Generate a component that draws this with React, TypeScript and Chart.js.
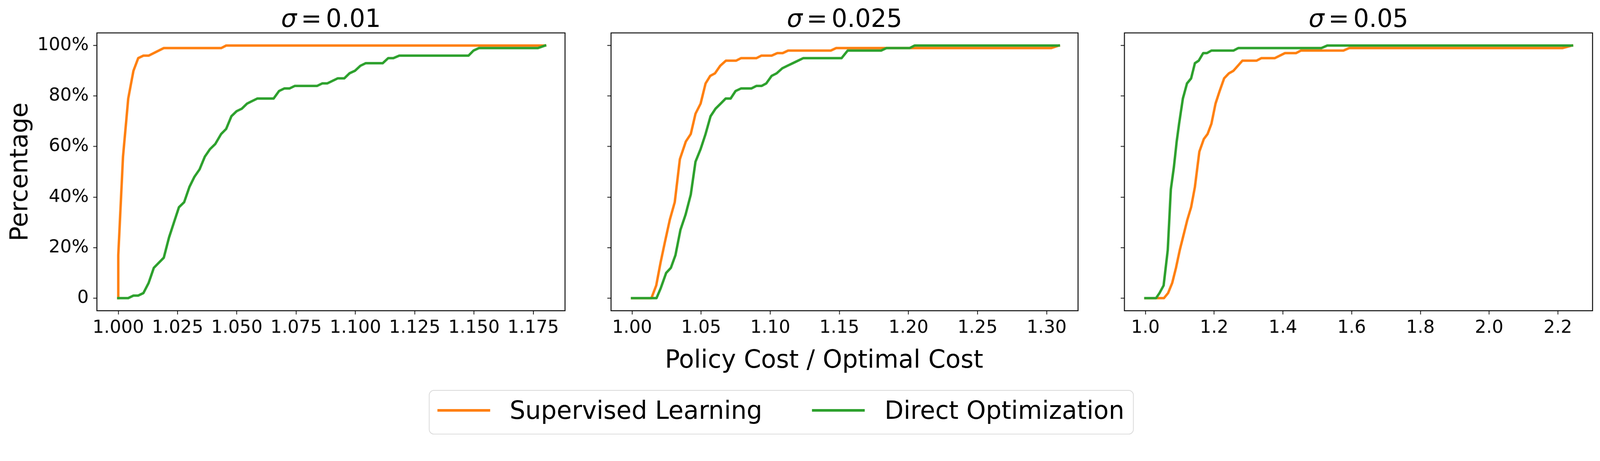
import { Chart, registerables } from "chart.js"
import React, { useEffect, useRef } from "react"

Chart.register(...registerables)

const FONT = "'DejaVu Sans', sans-serif"
const SL_COLOR = "#ff7f0e"
const DO_COLOR = "#2ca02c"
const PAGE_W = 4276
const PAGE_H = 1181

const SERIES_LABELS = ["Supervised Learning", "Direct Optimization"]
const SIGMAS = ["0.01", "0.025", "0.05"]

// shared y axis
const Y_TICKS = [0, 20, 40, 60, 80, 100]
const Y_TICK_LABELS = ["0", "20%", "40%", "60%", "80%", "100%"]

// sigma = 0.01
const X_TICKS_1 = [1.0, 1.025, 1.05, 1.075, 1.1, 1.125, 1.15, 1.175]
const X_TICK_LABELS_1 = ["1.000", "1.025", "1.050", "1.075", "1.100", "1.125", "1.150", "1.175"]
const SL1_X = [1.0, 1.0, 1.002, 1.0042, 1.0064, 1.0084, 1.0106, 1.0128, 1.0192, 1.0434, 1.0455, 1.18]
const SL1_Y = [0, 17, 56, 79, 90, 95, 96, 96, 99, 99, 100, 100]
const DO1_X = [
  1.0, 1.0042, 1.0064, 1.0084, 1.0106, 1.0128, 1.015, 1.0192, 1.0214, 1.0235, 1.0256, 1.0278, 1.03,
  1.0321, 1.0343, 1.0365, 1.0387, 1.0409, 1.0434, 1.0455, 1.0477, 1.0499, 1.0521, 1.0543, 1.0564,
  1.0586, 1.0655, 1.0678, 1.07, 1.0722, 1.0744, 1.0838, 1.086, 1.0881, 1.0903, 1.0925, 1.0953,
  1.0975, 1.0998, 1.1021, 1.1043, 1.1115, 1.1138, 1.116, 1.1185, 1.1477, 1.1498, 1.1521, 1.177, 1.18,
]
const DO1_Y = [
  0, 0, 1, 1, 2, 6, 12, 16, 24, 30, 36, 38, 44, 48, 51, 56, 59, 61, 65, 67, 72, 74, 75, 77, 78, 79, 79,
  82, 83, 83, 84, 84, 85, 85, 86, 87, 87, 89, 90, 92, 93, 93, 95, 95, 96, 96, 98, 99, 99, 100,
]

// sigma = 0.025
const X_TICKS_2 = [1.0, 1.05, 1.1, 1.15, 1.2, 1.25, 1.3]
const X_TICK_LABELS_2 = ["1.00", "1.05", "1.10", "1.15", "1.20", "1.25", "1.30"]
const SL2_X = [
  1.0, 1.014, 1.0175, 1.0206, 1.0237, 1.0273, 1.0309, 1.0346, 1.0389, 1.0425, 1.0459, 1.0496, 1.0532,
  1.0566, 1.06, 1.0638, 1.0679, 1.0752, 1.0788, 1.0899, 1.0935, 1.101, 1.1051, 1.109, 1.1129, 1.1438,
  1.1477, 1.3034, 1.3088,
]
const SL2_Y = [
  0, 0, 5, 14, 22, 31, 38, 55, 62, 65, 73, 77, 85, 88, 89, 92, 94, 94, 95, 95, 96, 96, 97, 97, 98, 98,
  99, 99, 100,
]
const DO2_X = [
  1.0, 1.0177, 1.0208, 1.0247, 1.0281, 1.0314, 1.035, 1.0387, 1.0425, 1.0459, 1.0496, 1.0532, 1.0568,
  1.0604, 1.0641, 1.0677, 1.0713, 1.0749, 1.0788, 1.0863, 1.0899, 1.0937, 1.0971, 1.101, 1.1046,
  1.1087, 1.1124, 1.1163, 1.1201, 1.1238, 1.1516, 1.156, 1.1802, 1.1841, 1.2008, 1.2044, 1.3088,
]
const DO2_Y = [
  0, 0, 4, 10, 12, 17, 27, 33, 41, 54, 59, 65, 72, 75, 77, 79, 79, 82, 83, 83, 84, 84, 85, 88, 89, 91,
  92, 93, 94, 95, 95, 98, 98, 99, 99, 100, 100,
]

// sigma = 0.05
const X_TICKS_3 = [1.0, 1.2, 1.4, 1.6, 1.8, 2.0, 2.2]
const X_TICK_LABELS_3 = ["1.0", "1.2", "1.4", "1.6", "1.8", "2.0", "2.2"]
const SL3_X = [
  1.0, 1.054, 1.066, 1.078, 1.089, 1.1, 1.111, 1.122, 1.133, 1.144, 1.157, 1.17, 1.181, 1.192, 1.204,
  1.216, 1.229, 1.243, 1.256, 1.282, 1.323, 1.337, 1.376, 1.406, 1.438, 1.452, 1.576, 1.593, 2.213, 2.241,
]
const SL3_Y = [
  0, 0, 2, 6, 12, 19, 25, 31, 36, 44, 58, 63, 65, 69, 77, 82, 87, 89, 90, 94, 94, 95, 95, 97, 97, 98, 98,
  99, 99, 100,
]
const DO3_X = [
  1.0, 1.031, 1.041, 1.053, 1.065, 1.074, 1.083, 1.091, 1.098, 1.109, 1.121, 1.133, 1.144, 1.155, 1.168,
  1.179, 1.192, 1.256, 1.27, 1.512, 1.529, 2.241,
]
const DO3_Y = [0, 0, 2, 5, 19, 43, 52, 62, 69, 79, 85, 87, 93, 94, 97, 97, 98, 98, 99, 99, 100, 100]

const toPoints = (xs: number[], ys: number[]) => xs.map((x, i) => ({ x, y: ys[i] }))

const framePlugin = {
  id: "frame",
  afterDatasetsDraw(chart: Chart) {
    const { ctx, chartArea: a } = chart
    ctx.save()
    ctx.strokeStyle = "#000"
    ctx.lineWidth = 2.5
    ctx.strokeRect(a.left, a.top, a.right - a.left, a.bottom - a.top)
    ctx.restore()
  },
}

const CANVAS_H = 900
const AREA_TOP = 88
const AREA_BOTTOM = 831

type PanelProps = {
  left: number
  width: number
  yAxisWidth: number
  showY: boolean
  xMin: number
  xMax: number
  xTicks: number[]
  xTickLabels: string[]
  sl: { x: number; y: number }[]
  dopt: { x: number; y: number }[]
}

const Panel: React.FC<PanelProps> = (p) => {
  const chartRef = useRef<HTMLCanvasElement>(null)

  useEffect(() => {
    const ctx = chartRef.current?.getContext("2d")
    if (!ctx) return
    const chart = new Chart(ctx, {
      type: "line",
      data: {
        datasets: [
          {
            label: SERIES_LABELS[0],
            data: p.sl,
            borderColor: SL_COLOR,
            order: 1,
          },
          {
            label: SERIES_LABELS[1],
            data: p.dopt,
            borderColor: DO_COLOR,
            order: 0,
          },
        ],
      },
      options: {
        animation: false,
        responsive: false,
        maintainAspectRatio: false,
        layout: { padding: { left: 0, right: 20, top: AREA_TOP, bottom: 0 } },
        elements: {
          point: { radius: 0 },
          line: { borderWidth: 6.5, tension: 0, borderJoinStyle: "round", borderCapStyle: "square" },
        },
        plugins: {
          legend: { display: false },
          tooltip: { enabled: false },
        },
        scales: {
          x: {
            type: "linear",
            min: p.xMin,
            max: p.xMax,
            afterBuildTicks: (scale: any) => {
              scale.ticks = p.xTicks.map((v) => ({ value: v }))
            },
            afterFit: (scale: any) => {
              scale.height = CANVAS_H - AREA_BOTTOM
            },
            border: { display: false },
            grid: {
              drawOnChartArea: false,
              drawTicks: true,
              tickLength: 10,
              tickWidth: 2,
              tickColor: "#000",
              color: "#000",
            },
            ticks: {
              autoSkip: false,
              maxRotation: 0,
              padding: 8,
              color: "#000",
              font: { family: FONT, size: 48 },
              callback: (_v: any, i: number) => p.xTickLabels[i],
            },
          },
          y: {
            type: "linear",
            min: -5,
            max: 105,
            afterBuildTicks: (scale: any) => {
              scale.ticks = Y_TICKS.map((v) => ({ value: v }))
            },
            afterFit: (scale: any) => {
              scale.width = p.yAxisWidth
            },
            border: { display: false },
            grid: {
              drawOnChartArea: false,
              drawTicks: true,
              tickLength: 10,
              tickWidth: 2,
              tickColor: "#000",
              color: "#000",
            },
            ticks: {
              display: p.showY,
              padding: 12,
              color: "#000",
              font: { family: FONT, size: 48 },
              callback: (_v: any, i: number) => Y_TICK_LABELS[i],
            },
            title: {
              display: p.showY,
              text: "Percentage",
              color: "#000",
              font: { family: FONT, size: 66 },
              padding: { top: 16, bottom: 0 },
            },
          },
        },
      },
      plugins: [framePlugin],
    })

    return () => {
      chart.destroy()
    }
  }, [])

  return (
    <canvas
      ref={chartRef}
      width={p.width}
      height={CANVAS_H}
      style={{ position: "absolute", left: p.left, top: 0, width: p.width, height: CANVAS_H }}
    />
  )
}

const textStyle = (size: number): React.CSSProperties => ({
  position: "absolute",
  fontFamily: FONT,
  fontSize: size,
  lineHeight: `${size}px`,
  color: "#000",
  whiteSpace: "nowrap",
})

const Title: React.FC<{ cx: number; value: string }> = ({ cx, value }) => (
  <div style={{ ...textStyle(66), left: cx - 400, top: 17, width: 800, textAlign: "center" }}>
    <span style={{ fontStyle: "italic" }}>σ</span>
    <span style={{ margin: "0 0.17em" }}>=</span>
    {value}
  </div>
)

const App: React.FC = () => {
  // the viewport may be smaller than the picture in css pixels, so fit the figure to it
  document.documentElement.style.overflow = "hidden"
  document.body.style.overflow = "hidden"
  document.body.style.margin = "0"
  const k = Math.min(window.innerWidth / PAGE_W, window.innerHeight / PAGE_H)

  return (
    <div
      style={{
        position: "absolute",
        left: 0,
        top: 0,
        width: PAGE_W,
        height: PAGE_H,
        background: "#fff",
        overflow: "hidden",
        transform: `scale(${k})`,
        transformOrigin: "0 0",
      }}
    >
      <Panel
        left={0}
        width={1530}
        yAxisWidth={259}
        showY={true}
        xMin={0.991}
        xMax={1.1884}
        xTicks={X_TICKS_1}
        xTickLabels={X_TICK_LABELS_1}
        sl={toPoints(SL1_X, SL1_Y)}
        dopt={toPoints(DO1_X, DO1_Y)}
      />
      <Panel
        left={1613}
        width={1288}
        yAxisWidth={20}
        showY={false}
        xMin={0.9848}
        xMax={1.3227}
        xTicks={X_TICKS_2}
        xTickLabels={X_TICK_LABELS_2}
        sl={toPoints(SL2_X, SL2_Y)}
        dopt={toPoints(DO2_X, DO2_Y)}
      />
      <Panel
        left={2985}
        width={1291}
        yAxisWidth={20}
        showY={false}
        xMin={0.939}
        xMax={2.3007}
        xTicks={X_TICKS_3}
        xTickLabels={X_TICK_LABELS_3}
        sl={toPoints(SL3_X, SL3_Y)}
        dopt={toPoints(DO3_X, DO3_Y)}
      />

      <Title cx={884.5} value={SIGMAS[0]} />
      <Title cx={2257} value={SIGMAS[1]} />
      <Title cx={3630.5} value={SIGMAS[2]} />

      <div style={{ ...textStyle(66), left: 1777, top: 928, width: 800, textAlign: "center" }}>
        Policy Cost / Optimal Cost
      </div>

      <div
        style={{
          position: "absolute",
          left: 1146,
          top: 1043,
          width: 1884,
          height: 119,
          border: "2.5px solid #d9d9d9",
          borderRadius: 14,
          boxSizing: "border-box",
        }}
      />
      <div style={{ position: "absolute", left: 1169, top: 1094, width: 141, height: 6.5, background: SL_COLOR }} />
      <div style={{ ...textStyle(66), left: 1362, top: 1065 }}>{SERIES_LABELS[0]}</div>
      <div style={{ position: "absolute", left: 2170, top: 1094, width: 141, height: 6.5, background: DO_COLOR }} />
      <div style={{ ...textStyle(66), left: 2364, top: 1065 }}>{SERIES_LABELS[1]}</div>
    </div>
  )
}

export default App
